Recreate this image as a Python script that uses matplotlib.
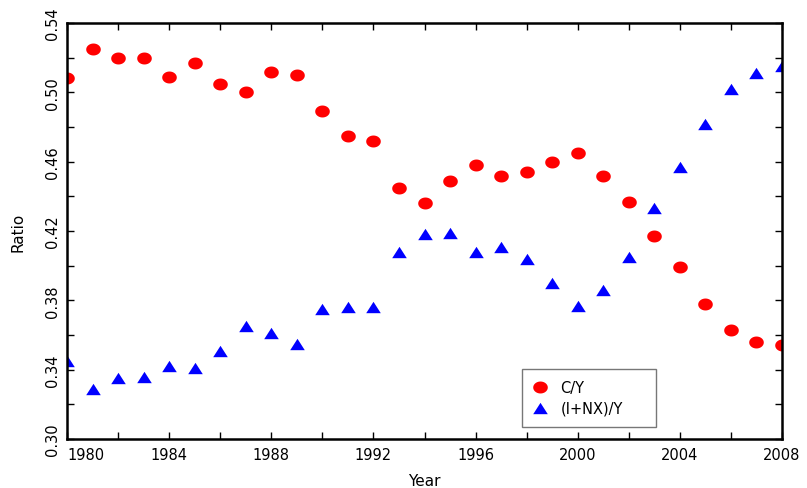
import numpy as np
import matplotlib
matplotlib.use("Agg")
import matplotlib.pyplot as plt
from matplotlib.path import Path

years = list(range(1980, 2009))
cy = [0.508, 0.525, 0.520, 0.520, 0.509, 0.517, 0.505, 0.500, 0.512, 0.510,
      0.489, 0.475, 0.472, 0.445, 0.436, 0.449, 0.458, 0.452, 0.454, 0.460,
      0.465, 0.452, 0.437, 0.417, 0.399, 0.378, 0.363, 0.356, 0.354]
inxy = [0.345, 0.329, 0.335, 0.336, 0.342, 0.341, 0.351, 0.365, 0.361, 0.355,
        0.375, 0.376, 0.376, 0.408, 0.418, 0.419, 0.408, 0.411, 0.404, 0.390,
        0.377, 0.386, 0.405, 0.433, 0.457, 0.482, 0.502, 0.511, 0.515]

xticks = list(range(1980, 2009, 2))
xlabels = [str(y) if (y - 1980) % 4 == 0 else "" for y in xticks]
yticks = [0.30, 0.32, 0.34, 0.36, 0.38, 0.40, 0.42, 0.44, 0.46, 0.48, 0.50, 0.52, 0.54]
ylabels = [f"{v:.2f}" if i % 2 == 0 else "" for i, v in enumerate(yticks)]

plt.rcParams['font.family'] = ['DejaVu Sans']

fig = plt.figure(figsize=(8.07, 4.89), dpi=100)
ax = fig.add_axes([67/807, 49/489, 715/807, 416/489])

t = np.linspace(0, 2*np.pi, 60)
ellipse = Path(np.column_stack([np.cos(t), 0.82*np.sin(t)]), closed=True)
tri = Path([(0, 0.78), (-1, -0.78), (1, -0.78), (0, 0.78)], closed=True)

ax.plot(years, cy, linestyle='none', marker=ellipse, markersize=10.5,
        color='#ff0000', mec='none', label='C/Y', clip_on=True)
ax.plot(years, inxy, linestyle='none', marker=tri, markersize=10.5,
        color='#0000ff', mec='none', label='(I+NX)/Y', clip_on=True)

ax.set_xlim(1980, 2008)
ax.set_ylim(0.30, 0.54)
ax.set_xticks(xticks)
ax.set_xticklabels(xlabels)
ax.set_yticks(yticks)
ax.set_yticklabels(ylabels, rotation=90, va='center')
lbls = ax.get_xticklabels()
lbls[0].set_ha('left')

ax.tick_params(direction='in', length=5, width=1, top=True, right=True,
               labelsize=10.5, pad=6)
ax.tick_params(axis='y', pad=5)
for s in ax.spines.values():
    s.set_linewidth(1.8)

ax.set_xlabel('Year', fontsize=11, labelpad=8)
ax.set_ylabel('Ratio', fontsize=11, labelpad=14)

leg = ax.legend(loc='lower left', bbox_to_anchor=(0.636, 0.029, 0.1874, 0.14),
                mode='expand', fontsize=10.5,
                frameon=True, fancybox=False, edgecolor='#555555',
                handlelength=1.0, handletextpad=0.9, borderpad=0.75,
                labelspacing=0.4, borderaxespad=0)
leg.get_frame().set_linewidth(1.0)

fig.savefig('out.png', dpi=100)
